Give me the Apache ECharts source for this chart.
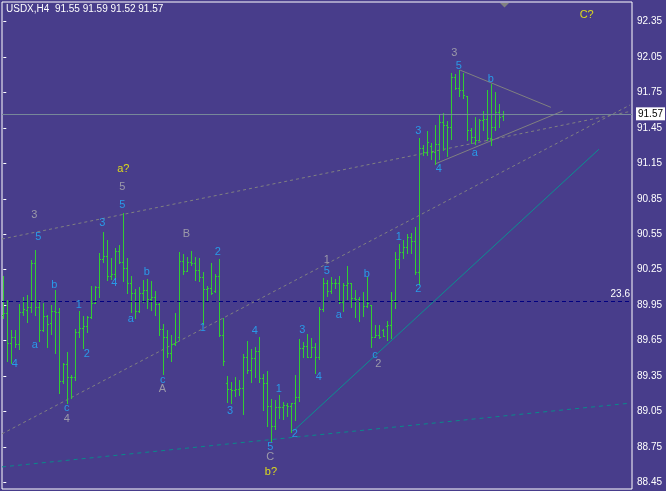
<!DOCTYPE html>
<html>
<head>
<meta charset="utf-8">
<title>USDX,H4</title>
<script src="https://cdn.jsdelivr.net/npm/echarts@6/dist/echarts.min.js"></script>
<style>
  html, body { margin: 0; padding: 0; background: #483D8B; }
  #chart { width: 666px; height: 491px; }
</style>
</head>
<body>
<div id="chart"></div>
<script>
// bars, oldest first (open / high / low / close)
const opens = [
  89.867, 89.881, 89.633, 89.678, 89.621, 89.892, 89.909, 89.937, 90.304, 89.932,
  89.740, 89.858, 89.796, 89.904, 89.895, 89.311, 89.452, 89.339, 89.345, 89.726,
  89.754, 89.774, 89.853, 89.971, 90.101, 90.338, 90.367, 90.197, 90.214, 90.412,
  90.319, 90.262, 90.135, 90.056, 89.904, 90.056, 90.079, 90.000, 90.016, 89.960,
  89.745, 89.678, 89.542, 89.621, 89.683, 90.327, 90.242, 90.318, 90.304, 90.248,
  90.186, 90.084, 90.093, 90.073, 90.197, 89.697, 89.294, 89.237, 89.232, 89.237,
  89.246, 89.514, 89.401, 89.500, 89.560, 89.331, 89.294, 89.096, 88.927, 89.091,
  89.085, 89.105, 89.096, 89.119, 89.175, 89.585, 89.604, 89.514, 89.593, 89.514,
  89.915, 90.141, 90.073, 90.135, 90.141, 89.980, 90.121, 90.135, 90.008, 90.000,
  89.988, 89.943, 89.950, 89.678, 89.698, 89.740, 89.777, 89.780, 89.994, 90.338,
  90.403, 90.446, 90.530, 90.494, 90.228, 91.278, 91.250, 91.300, 91.250, 91.315,
  91.504, 91.476, 91.462, 91.885, 91.786, 91.772, 91.720, 91.433, 91.371, 91.349,
  91.518, 91.524, 91.363, 91.462, 91.588, 91.55
]
const highs = [
  90.197, 89.994, 89.740, 89.740, 89.960, 90.022, 90.036, 90.333, 90.417, 89.994,
  89.971, 89.867, 89.952, 90.079, 89.923, 89.463, 89.554, 89.359, 89.746, 89.901,
  89.858, 89.858, 90.112, 90.112, 90.389, 90.573, 90.502, 90.347, 90.431, 90.460,
  90.728, 90.347, 90.197, 90.084, 90.101, 90.163, 90.169, 90.158, 90.073, 89.966,
  89.791, 89.740, 89.697, 89.881, 90.403, 90.383, 90.361, 90.409, 90.355, 90.347,
  90.234, 90.112, 90.310, 90.214, 90.338, 89.839, 89.350, 89.302, 89.345, 89.317,
  89.537, 89.650, 89.576, 89.599, 89.683, 89.367, 89.396, 89.153, 89.147, 89.190,
  89.133, 89.119, 89.125, 89.359, 89.661, 89.641, 89.706, 89.669, 89.627, 89.937,
  90.177, 90.163, 90.186, 90.169, 90.197, 90.141, 90.282, 90.135, 90.079, 90.017,
  90.065, 90.186, 89.952, 89.782, 89.782, 89.748, 89.816, 90.062, 90.403, 90.465,
  90.502, 90.550, 90.558, 90.615, 91.363, 91.306, 91.428, 91.320, 91.476, 91.560,
  91.574, 91.512, 91.913, 91.907, 91.941, 91.913, 91.721, 91.447, 91.546, 91.524,
  91.597, 91.772, 91.823, 91.758, 91.653, 91.59
]
const lows = [
  89.839, 89.480, 89.463, 89.599, 89.576, 89.867, 89.810, 89.895, 89.867, 89.650,
  89.734, 89.599, 89.706, 89.542, 89.209, 89.288, 89.125, 89.161, 89.317, 89.683,
  89.585, 89.726, 89.839, 89.966, 90.022, 90.319, 90.163, 90.169, 90.169, 90.310,
  90.158, 90.050, 89.895, 89.839, 89.895, 89.980, 89.923, 89.909, 89.867, 89.697,
  89.367, 89.514, 89.480, 89.613, 89.655, 90.214, 90.242, 90.290, 90.163, 90.158,
  89.791, 89.994, 90.045, 90.064, 89.689, 89.444, 89.133, 89.125, 89.181, 89.190,
  89.029, 89.373, 89.302, 89.345, 89.302, 89.062, 88.927, 88.803, 88.899, 88.992,
  88.984, 89.012, 88.879, 88.978, 89.142, 89.514, 89.508, 89.508, 89.379, 89.492,
  89.904, 90.028, 90.056, 90.093, 89.971, 89.904, 90.000, 89.932, 89.847, 89.819,
  89.858, 89.937, 89.593, 89.678, 89.669, 89.689, 89.655, 89.675, 89.929, 90.268,
  90.352, 90.395, 90.389, 90.217, 90.129, 91.222, 91.222, 91.185, 91.145, 91.185,
  91.264, 91.213, 91.354, 91.778, 91.721, 91.701, 91.349, 91.320, 91.315, 91.349,
  91.433, 91.349, 91.306, 91.433, 91.462, 91.52
]
const closes = [
  89.887, 89.633, 89.678, 89.621, 89.892, 89.915, 89.937, 90.310, 89.932, 89.740,
  89.858, 89.791, 89.904, 89.895, 89.311, 89.452, 89.339, 89.345, 89.726, 89.754,
  89.774, 89.853, 89.971, 90.101, 90.338, 90.367, 90.197, 90.214, 90.412, 90.319,
  90.262, 90.135, 90.056, 89.904, 90.056, 90.079, 90.000, 90.016, 89.960, 89.745,
  89.678, 89.542, 89.621, 89.641, 90.327, 90.242, 90.318, 90.304, 90.248, 90.186,
  90.084, 90.093, 90.050, 90.197, 89.697, 89.480, 89.237, 89.232, 89.237, 89.246,
  89.514, 89.401, 89.500, 89.560, 89.331, 89.294, 89.096, 88.927, 89.091, 89.085,
  89.105, 89.096, 89.119, 89.175, 89.585, 89.604, 89.514, 89.593, 89.514, 89.915,
  90.141, 90.073, 90.135, 90.141, 89.980, 90.121, 90.135, 90.008, 90.000, 89.988,
  89.943, 89.966, 89.678, 89.698, 89.683, 89.690, 89.780, 89.994, 90.338, 90.403,
  90.446, 90.530, 90.494, 90.228, 91.278, 91.250, 91.334, 91.250, 91.315, 91.504,
  91.476, 91.462, 91.885, 91.786, 91.772, 91.730, 91.433, 91.371, 91.349, 91.518,
  91.524, 91.363, 91.462, 91.588, 91.546, 91.57
]

// price scale labels on the right
const priceTicks = [88.45, 88.75, 89.05, 89.35, 89.65, 89.95, 90.25, 90.55, 90.85, 91.15, 91.45, 91.75, 92.05, 92.35]
const bidPrice = 91.57
const fiboLevel = 89.98
const fiboText = '23.6'
const headerText = 'USDX,H4  91.55 91.59 91.52 91.57'

// trend lines: [bar index, price]
const upperChannel = [[-0.33, 90.51], [156.7, 91.59]]
const lowerChannel = [[-0.33, 88.86], [156.7, 91.645]]
const baseLine = [[-0.33, 88.58], [156.7, 89.12]]
const supportLine = [[72.7, 88.89], [148.9, 91.27]]
const triangleTop = [[114.2, 91.94], [136.9, 91.625]]
const triangleBottom = [[107.9, 91.145], [139.85, 91.594]]

// wave marks: [bar index, price, text]
const waveBlue = [
  [8.75, 90.524, '5'], [29.75, 90.798, '5'], [24.75, 90.648, '3'], [53.6, 90.403, '2'],
  [12.75, 90.12, 'b'], [27.75, 90.135, '4'], [35.85, 90.233, 'b'], [18.9, 89.951, '1'],
  [31.9, 89.833, 'a'], [7.9, 89.612, 'a'], [2.9, 89.449, '4'], [20.85, 89.534, '2'],
  [15.85, 89.077, 'c'], [39.85, 89.314, 'c'], [49.85, 89.754, '1'], [62.9, 89.734, '4'],
  [74.75, 89.74, '3'], [56.7, 89.056, '3'], [68.85, 89.237, '1'], [78.9, 89.339, '4'],
  [72.9, 88.856, '2'], [66.75, 88.751, '5'], [80.85, 90.239, '5'], [83.9, 89.866, 'a'],
  [90.85, 90.211, 'b'], [92.9, 89.528, 'c'], [103.75, 90.084, '2'], [98.9, 90.524, '1'],
  [103.75, 91.427, '3'], [108.85, 91.10, '4'], [113.85, 91.977, '5'], [117.9, 91.236, 'a'],
  [121.85, 91.865, 'b']
]
const waveGray = [
  [7.75, 90.713, '3'], [29.75, 90.948, '5'], [45.75, 90.55, 'B'], [15.85, 88.986, '4'],
  [39.75, 89.237, 'A'], [66.75, 88.662, 'C'], [80.85, 90.332, '1'], [93.75, 89.449, '2'],
  [112.75, 92.082, '3']
]
const waveYellow = [
  [30, 91.10, 'a?'], [66.9, 88.54, 'b?'], [145.85, 92.407, 'C?']
]

const FONT = 'Liberation Sans'
const BAR = '#32CD32'

const chart = echarts.init(document.getElementById('chart'))

const lineSeries = (data, color, type) => ({
  type: 'line',
  data: data,
  showSymbol: false,
  silent: true,
  animation: false,
  lineStyle: { color: color, width: 1, type: type },
  z: 2,
})

const waveSeries = (data, color, size) => ({
  type: 'scatter',
  data: data,
  symbolSize: 1,
  itemStyle: { color: 'rgba(0,0,0,0)' },
  silent: true,
  animation: false,
  z: 5,
  label: {
    show: true,
    position: 'inside',
    color: color,
    fontFamily: FONT,
    fontSize: size,
    formatter: (p) => p.value[2],
  },
})

const option = {
  backgroundColor: '#483D8B',
  animation: false,
  title: {
    text: headerText,
    left: 6,
    top: 4,
    padding: 0,
    textStyle: { color: '#ffffff', fontSize: 10, fontWeight: 'normal', fontFamily: FONT },
  },
  grid: {
    left: 2,
    top: 2,
    right: 34,
    bottom: 2,
    show: true,
    borderColor: '#ffffff',
    borderWidth: 1,
    backgroundColor: 'transparent',
  },
  xAxis: {
    type: 'value',
    min: -0.325,
    max: 157.175,
    show: false,
  },
  yAxis: {
    type: 'value',
    position: 'right',
    min: 88.393,
    max: 92.517,
    splitLine: { show: false },
    axisLine: { show: false },
    axisTick: {
      show: true,
      customValues: priceTicks,
      length: 3,
      lineStyle: { color: '#ffffff' },
    },
    axisLabel: {
      customValues: priceTicks,
      color: '#ffffff',
      fontFamily: FONT,
      fontSize: 10,
      margin: 5,
      formatter: (v) => v.toFixed(2),
    },
  },
  graphic: [
    {
      type: 'polygon',
      shape: { points: [[500, 3], [509, 3], [504.5, 7.5]] },
      style: { fill: '#808080' },
      silent: true,
    },
  ],
  series: [
    lineSeries(baseLine, '#0A8A8A', [4, 4]),
    lineSeries(upperChannel, '#808080', [3, 3]),
    lineSeries(lowerChannel, '#808080', [3, 3]),
    lineSeries(supportLine, '#0A9090', 'solid'),
    lineSeries(triangleTop, '#808080', 'solid'),
    lineSeries(triangleBottom, '#808080', 'solid'),
    {
      type: 'custom',
      data: opens.map((o, i) => [i, o, highs[i], lows[i], closes[i]]),
      encode: { x: 0, y: [2, 3] },
      silent: true,
      animation: false,
      z: 3,
      renderItem: (params, api) => {
        const i = api.value(0)
        const top = api.coord([i, api.value(2)])
        const bottom = api.coord([i, api.value(3)])
        const yO = Math.round(api.coord([i, api.value(1)])[1])
        const yC = Math.round(api.coord([i, api.value(4)])[1])
        const x = Math.round(top[0])
        const y0 = Math.round(top[1])
        const y1 = Math.round(bottom[1])
        return {
          type: 'group',
          children: [
            { type: 'rect', shape: { x: x, y: y0, width: 1, height: Math.max(1, y1 - y0 + 1) }, style: { fill: BAR } },
            { type: 'rect', shape: { x: x - 1, y: yO, width: 1, height: 1 }, style: { fill: BAR } },
            { type: 'rect', shape: { x: x + 1, y: yC, width: 1, height: 1 }, style: { fill: BAR } },
          ],
        }
      },
      markLine: {
        silent: true,
        symbol: ['none', 'none'],
        animation: false,
        data: [
          {
            yAxis: bidPrice,
            lineStyle: { color: '#778899', width: 1, type: 'solid' },
            label: {
              show: true,
              position: 'end',
              distance: 4,
              formatter: bidPrice.toFixed(2),
              color: '#000000',
              backgroundColor: '#ffffff',
              padding: [2, 2, 1, 2],
              fontFamily: FONT,
              fontSize: 10,
            },
          },
          {
            yAxis: fiboLevel,
            lineStyle: { color: '#000080', width: 1, type: [4, 3] },
            label: {
              show: true,
              position: 'insideEndTop',
              distance: 2,
              formatter: fiboText,
              color: '#ffffff',
              fontFamily: FONT,
              fontSize: 10,
            },
          },
        ],
      },
    },
    waveSeries(waveBlue, '#22B0FF', 11),
    waveSeries(waveGray, '#B0B0B0', 11),
    waveSeries(waveYellow, '#FFFF00', 11),
  ],
}

chart.setOption(option)

window.addEventListener('resize', () => {
  chart.resize()
})
</script>
</body>
</html>
